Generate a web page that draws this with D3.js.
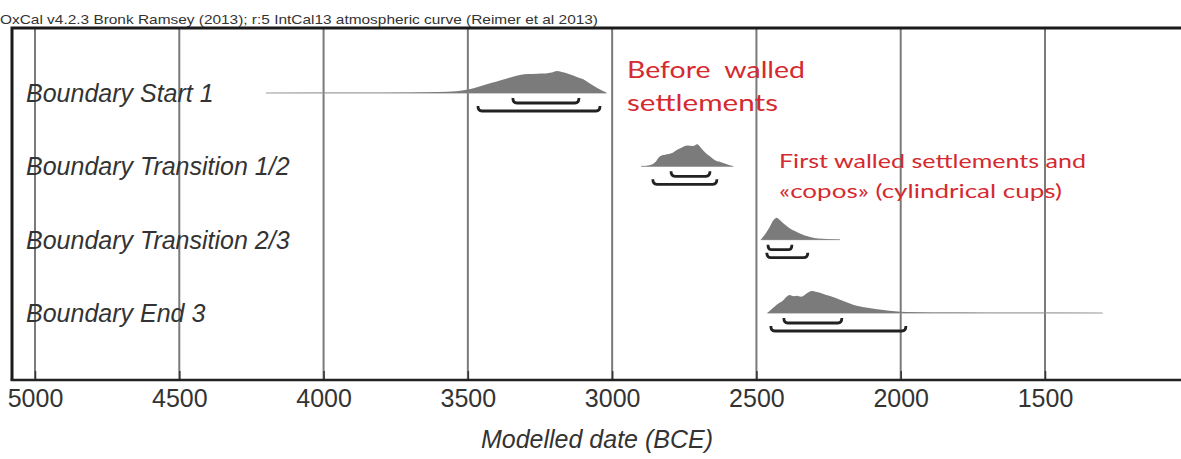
<!DOCTYPE html>
<html>
<head>
<meta charset="utf-8">
<script src="https://cdn.jsdelivr.net/npm/d3@7"></script>
<style>
  html, body { margin: 0; padding: 0; background: #fff; }
  svg { display: block; }
</style>
</head>
<body>
<svg id="chart" width="1181" height="459"></svg>
<script>
// Posterior boundary distributions (years BCE, relative probability)
const rowNames = ["Boundary Start 1", "Boundary Transition 1/2", "Boundary Transition 2/3", "Boundary End 3"];

const startYears = [4200, 3900, 3700, 3600, 3540, 3500, 3460, 3420, 3380, 3350, 3320, 3290, 3260, 3230, 3210, 3190, 3170, 3150, 3120, 3100, 3080, 3060, 3040, 3020];
const startProbs = [0.5, 1, 2, 4, 8, 16, 30, 45, 60, 72, 82, 86, 88, 89, 93, 100, 94, 86, 72, 62, 45, 30, 15, 2];

const trans12Years = [2900, 2870, 2850, 2835, 2810, 2790, 2775, 2760, 2740, 2720, 2705, 2690, 2675, 2660, 2640, 2625, 2600, 2580];
const trans12Probs = [0, 5, 20, 45, 55, 62, 75, 85, 95, 92, 100, 80, 60, 45, 25, 20, 8, 0];

const trans23Years = [2485, 2470, 2455, 2440, 2430, 2420, 2405, 2385, 2365, 2345, 2320, 2300, 2270, 2240, 2210];
const trans23Probs = [0, 25, 55, 90, 100, 90, 72, 52, 38, 26, 14, 8, 4, 2, 0];

const endYears = [2462, 2445, 2430, 2410, 2385, 2370, 2360, 2345, 2325, 2308, 2290, 2270, 2245, 2210, 2165, 2115, 2060, 1980, 1800, 1600, 1300];
const endProbs = [0, 20, 38, 55, 82, 76, 78, 74, 90, 100, 95, 88, 77, 60, 38, 24, 14, 5, 2, 1, 0];

// Highest posterior density ranges [from, to] BCE
const range68 = [[3344, 3115], [2796, 2661], [2460, 2377], [2405, 2204]];
const range95 = [[3465, 3042], [2859, 2637], [2464, 2322], [2450, 1982]];

// Axis ticks
const majorTicks = [5000, 4500, 4000, 3500, 3000, 2500, 2000, 1500];

const headerText = "OxCal v4.2.3 Bronk Ramsey (2013); r:5 IntCal13 atmospheric curve (Reimer et al 2013)";
const axisTitle = "Modelled date (BCE)";
const note1 = ["Before  walled", "settlements"];
const note2 = ["First walled settlements and", "«copos» (cylindrical cups)"];

const series = [
  { years: startYears, probs: startProbs },
  { years: trans12Years, probs: trans12Probs },
  { years: trans23Years, probs: trans23Probs },
  { years: endYears, probs: endProbs }
];

const svg = d3.select("#chart");
const W = 1181, H = 459;
const plotLeft = 12, plotTop = 28, plotBottom = 380;

const x = d3.scaleLinear().domain([5000, 1500]).range([35, 1045]);
const rowY = d3.scalePoint().domain(rowNames).range([93, 313]);
const h = d3.scaleLinear().domain([0, 100]).range([0, 22]);

// header
svg.append("text")
  .attr("x", 0).attr("y", 24)
  .attr("font-family", "Liberation Sans Narrow, Liberation Sans, Arial, sans-serif")
  .attr("font-size", 13)
  .attr("fill", "#333")
  .attr("textLength", 598)
  .attr("lengthAdjust", "spacingAndGlyphs")
  .text(headerText);

// vertical grid lines
svg.append("g").selectAll("line")
  .data(majorTicks)
  .join("line")
  .attr("x1", d => x(d)).attr("x2", d => x(d))
  .attr("y1", plotTop).attr("y2", plotBottom)
  .attr("stroke", "#7a7a7a")
  .attr("stroke-width", 2);

// frame
svg.append("path")
  .attr("d", `M${W + 5},${plotTop} L${plotLeft},${plotTop} L${plotLeft},${plotBottom}`)
  .attr("fill", "none")
  .attr("stroke", "#1a1a1a")
  .attr("stroke-width", 3);

// axis
const minorTicks = d3.range(5050, 1000, -50).filter(v => v % 500 !== 0);
const axisG = svg.append("g").attr("transform", `translate(0,${plotBottom})`);
axisG.call(d3.axisBottom(x).tickValues(minorTicks).tickSize(-5).tickFormat(""));
axisG.call(d3.axisBottom(x).tickValues(majorTicks).tickSize(-9).tickPadding(9).tickFormat(d3.format("d")));
axisG.select(".domain").remove();
axisG.selectAll(".tick line").attr("stroke", "#333").attr("stroke-width", 1.5);
axisG.selectAll(".tick text")
  .attr("font-family", "Liberation Sans, Arial, sans-serif")
  .attr("font-size", 25)
  .attr("fill", "#333");
svg.append("line")
  .attr("x1", plotLeft - 1.5).attr("x2", W + 5)
  .attr("y1", plotBottom).attr("y2", plotBottom)
  .attr("stroke", "#222").attr("stroke-width", 2.5);

svg.append("text")
  .attr("x", 597).attr("y", 448)
  .attr("text-anchor", "middle")
  .attr("font-family", "Liberation Sans, Arial, sans-serif")
  .attr("font-style", "italic")
  .attr("font-size", 25)
  .attr("fill", "#333")
  .text(axisTitle);

// row labels
svg.append("g").selectAll("text")
  .data(rowNames)
  .join("text")
  .attr("x", 26)
  .attr("y", d => rowY(d) + 9)
  .attr("font-family", "Liberation Sans, Arial, sans-serif")
  .attr("font-style", "italic")
  .attr("font-size", 25)
  .attr("fill", "#333")
  .text(d => d);

// distributions
const area = d3.area().curve(d3.curveMonotoneX);
series.forEach((s, i) => {
  const base = rowY(rowNames[i]);
  const pts = s.years.map((yr, j) => [yr, s.probs[j]]);
  svg.append("line")
    .attr("x1", x(s.years[0])).attr("x2", x(s.years[s.years.length - 1]))
    .attr("y1", base).attr("y2", base)
    .attr("stroke", "#999").attr("stroke-width", 1);
  svg.append("path")
    .datum(pts)
    .attr("d", area.x(d => x(d[0])).y0(base).y1(d => base - h(d[1])))
    .attr("fill", "#7b7b7b");
});

// HPD range brackets
function bracket(x1, x2, y) {
  return `M${x1},${y - 5} Q${x1},${y} ${x1 + 4},${y} L${x2 - 4},${y} Q${x2},${y} ${x2},${y - 5}`;
}
rowNames.forEach((name, i) => {
  const base = rowY(name);
  [[range68[i], 10], [range95[i], 18]].forEach(([r, off]) => {
    svg.append("path")
      .attr("d", bracket(x(r[0]), x(r[1]), base + off))
      .attr("fill", "none")
      .attr("stroke", "#222")
      .attr("stroke-width", 2.8);
  });
});

// annotations
const red = "#d42a30";
const n1 = svg.append("g").attr("font-family", "Lato, 'Open Sans', sans-serif").attr("font-size", 24).attr("fill", red);
n1.append("text").attr("x", 627).attr("y", 78).attr("textLength", 178).attr("lengthAdjust", "spacingAndGlyphs").style("white-space", "pre").text(note1[0]);
n1.append("text").attr("x", 627).attr("y", 111).attr("textLength", 151).attr("lengthAdjust", "spacingAndGlyphs").text(note1[1]);

const n2 = svg.append("g").attr("font-family", "Lato, 'Open Sans', sans-serif").attr("font-size", 19).attr("fill", red);
n2.append("text").attr("x", 779).attr("y", 168).attr("textLength", 307).attr("lengthAdjust", "spacingAndGlyphs").text(note2[0]);
n2.append("text").attr("x", 779).attr("y", 198).attr("textLength", 283).attr("lengthAdjust", "spacingAndGlyphs").text(note2[1]);
</script>
</body>
</html>
